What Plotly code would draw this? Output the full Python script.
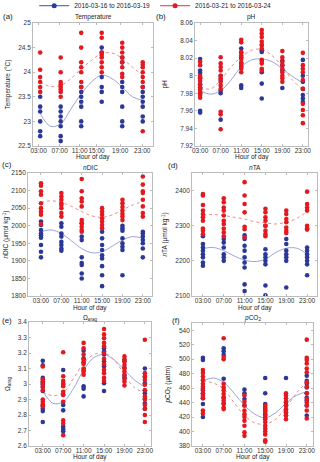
import plotly.graph_objects as go

W, H = 320, 462

HOURS = [3, 7, 11, 15, 19, 23]
HOUR_LABELS = ["03:00", "07:00", "11:00", "15:00", "19:00", "23:00"]
FIT_HOURS = [3, 5, 7, 9, 11, 13, 15, 17, 19, 21, 23]
# tick label positions, where they are not evenly spaced
TEMP_TICK_POS = [2.7, 6.8, 10.7, 14.0, 18.6, 22.9]

SERIES1 = "2016-03-16 to 2016-03-19"
SERIES2 = "2016-03-21 to 2016-03-24"
XTITLE = "Hour of day"

# ---- (a) Temperature ----
temp_blue = [
    [23.5, 23.3, 23.2, 23.0, 22.8, 22.7],
    [23.3, 23.2, 23.1, 23.0, 22.9, 22.7, 22.6],
    [23.7, 23.6, 23.5, 23.4, 23.3, 23.0, 22.9],
    [24.5, 24.4, 23.9, 23.7, 23.6, 23.4],
    [24.3, 24.2, 23.8, 23.7, 23.6, 23.3, 23.0, 22.9],
    [23.7, 23.6, 23.5, 23.4, 23.3, 23.1, 23.0],
]
temp_red = [
    [24.4, 24.05, 23.9, 23.8, 23.7, 23.6],
    [24.3, 24.0, 23.8, 23.75, 23.7, 23.65, 23.6, 23.5],
    [24.8, 24.5, 24.2, 24.1, 24.0, 23.8, 23.7],
    [24.8, 24.7, 24.4, 24.35, 24.3, 24.2, 24.1, 24.0],
    [24.6, 24.5, 24.4, 24.3, 24.2, 24.1, 23.97, 23.9],
    [24.2, 24.15, 24.1, 24.0, 23.9, 23.8, 23.7, 22.8],
]
temp_blue_fit = [23.16, 22.9, 22.95, 23.25, 23.56, 23.8, 23.94, 23.87, 23.7, 23.5, 23.43]
temp_red_fit = [23.8, 23.71, 23.73, 23.87, 24.07, 24.24, 24.38, 24.39, 24.28, 24.1, 23.94]
temp_ticks = [22.5, 23, 23.5, 24, 24.5, 25]

# ---- (b) pH ----
ph_blue = [
    [8.019, 8.006, 8.003, 7.998, 7.99, 7.985, 7.98, 7.96, 7.958],
    [8.0, 7.995, 7.983, 7.98, 7.95],
    [8.031, 8.026, 8.021, 8.014, 8.01, 7.989, 7.986],
    [8.035, 8.029, 8.027, 8.017, 8.004, 7.991, 7.974],
    [8.017, 8.012, 8.006, 7.986],
    [8.018, 8.0, 7.993, 7.985, 7.978, 7.974, 7.97],
]
ph_red = [
    [8.016, 8.012, 8.0, 7.997, 7.994, 7.99, 7.987, 7.984, 7.981, 7.978, 7.975],
    [8.021, 8.014, 8.01, 8.006, 8.0, 7.997, 7.993, 7.989, 7.985, 7.959, 7.956, 7.939],
    [8.041, 8.038, 8.027, 8.023, 8.019, 8.015, 8.011, 8.008, 8.004],
    [8.052, 8.048, 8.044, 8.039, 8.035, 8.031, 8.018, 8.014, 8.008, 8.006],
    [8.028, 8.021, 8.016, 8.012, 8.008, 8.004, 8.0, 7.997, 7.993],
    [8.026, 8.012, 8.008, 8.004, 7.995, 7.985, 7.968, 7.961, 7.955, 7.946],
]
ph_blue_fit = [7.983, 7.979, 7.983, 7.995, 8.01, 8.018, 8.019, 8.016, 8.008, 7.999, 7.992]
ph_red_fit = [7.987, 7.985, 7.995, 8.01, 8.021, 8.029, 8.03, 8.023, 8.01, 7.995, 7.984]
ph_ticks = [7.92, 7.94, 7.96, 7.98, 8.0, 8.02, 8.04, 8.06]

# ---- (c) nDIC ----
dic_blue = [
    [2012, 2002, 1988, 1978, 1973, 1966, 1945, 1926, 1910],
    [2007, 1997, 1978, 1969, 1954, 1945, 1935, 1929],
    [2007, 1969, 1959, 1910, 1894, 1888, 1864, 1850],
    [1983, 1964, 1945, 1931, 1916, 1907, 1885, 1859, 1828],
    [2000, 1993, 1986, 1964, 1950, 1940, 1931, 1859],
    [1983, 1978, 1969, 1959, 1950, 1935, 1910],
]
dic_red = [
    [2121, 2114, 2098, 2088, 2064, 2050, 2040, 2031, 2005],
    [2093, 2083, 2074, 2064, 2059, 2050, 2036, 2026],
    [2133, 2098, 2078, 2069, 2055, 2016, 2007, 1997, 1988, 1983],
    [2050, 2040, 2031, 2021, 2012, 2002, 1993],
    [2074, 2064, 2053, 2043, 2034, 2026, 2016],
    [2140, 2117, 2098, 2093, 2074, 2055, 2036, 2026],
]
dic_blue_fit = [1983, 1988, 1978, 1957, 1935, 1923, 1926, 1942, 1959, 1969, 1964]
dic_red_fit = [2066, 2071, 2066, 2055, 2040, 2028, 2024, 2031, 2045, 2059, 2069]
dic_ticks = [1800, 1850, 1900, 1950, 2000, 2050, 2100, 2150]

# ---- (d) nTA ----
ta_blue = [
    [2270, 2248, 2238, 2229, 2219, 2210, 2195, 2186],
    [2262, 2252, 2238, 2219, 2210, 2200],
    [2273, 2262, 2243, 2229, 2210, 2195, 2181, 2133, 2114],
    [2300, 2233, 2219, 2210, 2200, 2190, 2130, 2102],
    [2262, 2248, 2229, 2219, 2210, 2200, 2124],
    [2238, 2229, 2219, 2210, 2200, 2190, 2159],
]
ta_red = [
    [2390, 2386, 2359, 2343, 2333, 2324, 2314, 2292, 2286, 2276],
    [2378, 2367, 2352, 2343, 2329, 2314, 2305, 2292, 2281, 2270],
    [2424, 2386, 2362, 2338, 2297, 2290, 2267],
    [2348, 2338, 2324, 2314, 2300, 2286, 2276, 2270],
    [2343, 2333, 2319, 2310, 2295, 2286, 2279],
    [2397, 2362, 2352, 2343, 2300, 2293, 2289],
]
ta_blue_fit = [2235, 2238, 2229, 2214, 2202, 2198, 2205, 2224, 2236, 2236, 2219]
ta_red_fit = [2330, 2332, 2329, 2324, 2319, 2311, 2308, 2305, 2310, 2321, 2340]
ta_ticks = [2100, 2200, 2300, 2400]

# ---- (e) Omega arag ----
om_blue = [
    [3.15, 3.12, 3.04, 3.01, 2.995, 2.98, 2.955, 2.86, 2.84, 2.825, 2.755],
    [3.09, 3.0, 2.93, 2.865, 2.83, 2.725, 2.71, 2.695],
    [3.215, 3.165, 3.14, 3.09, 2.985, 2.97, 2.92],
    [3.23, 3.21, 3.19, 3.145, 3.115, 3.005, 2.955],
    [3.15, 3.105, 3.055, 3.04],
    [3.10, 3.045, 3.005, 2.96, 2.94, 2.905, 2.875, 2.84],
]
om_red = [
    [3.113, 3.03, 3.017, 3.002, 2.98, 2.96, 2.90, 2.885, 2.87, 2.855],
    [3.205, 3.05, 3.02, 3.0, 2.985, 2.95, 2.93, 2.885, 2.765, 2.745, 2.67],
    [3.265, 3.23, 3.19, 3.157, 3.13, 3.1, 3.08, 3.06],
    [3.355, 3.32, 3.295, 3.265, 3.243, 3.2, 3.163, 3.128, 3.092, 3.07, 3.04, 3.02],
    [3.178, 3.16, 3.143, 3.122, 3.1, 3.08, 3.058, 3.032, 3.015, 2.99],
    [3.285, 3.07, 3.048, 3.026, 2.995, 2.96, 2.92, 2.9, 2.865, 2.84, 2.80, 2.755],
]
om_blue_fit = [2.955, 2.875, 2.885, 2.97, 3.09, 3.17, 3.19, 3.155, 3.09, 3.025, 2.98]
om_red_fit = [2.945, 2.925, 2.945, 3.035, 3.135, 3.19, 3.2, 3.155, 3.06, 2.975, 2.945]
om_ticks = [2.6, 2.7, 2.8, 2.9, 3.0, 3.1, 3.2, 3.3, 3.4]

# ---- (f) pCO2 ----
pco2_blue = [
    [502, 499, 459, 453, 446, 438, 420],
    [515, 511, 506, 473, 447, 439],
    [458, 453, 445, 436],
    [474, 453, 438, 433, 429, 424, 419],
    [474, 440, 436, 430, 426, 422],
    [477, 470, 466, 461, 453, 447, 443, 436, 422],
]
pco2_red = [
    [485, 481, 476, 471, 466, 462, 457, 452, 449, 446, 429, 425],
    [529, 503, 500, 466, 461, 457, 452, 447, 443, 438, 433, 431],
    [450, 441, 436, 429, 424, 420, 415, 408, 399, 394],
    [436, 431, 427, 422, 417, 413, 408, 404, 400, 396, 388, 386],
    [453, 450, 446, 441, 436, 431, 427, 422, 417],
    [527, 502, 499, 494, 487, 482, 468, 462, 453, 445, 440, 436, 429, 418],
]
pco2_blue_fit = [470, 474, 468, 453, 436, 424, 419, 426, 439, 450, 455]
pco2_red_fit = [470, 467, 459, 440, 422, 412, 410, 417, 433, 453, 468]
pco2_ticks = [380, 400, 420, 440, 460, 480, 500, 520, 540]

BLUE = "#2b3896"
RED = "#e3191f"
BLUE_FIT = "#8f9ad6"
RED_FIT = "#f08a8a"
AXIS = "#bcbcbc"
FONT = "Liberation Sans, Arial, sans-serif"
FS = 6.5


def px(x):
    return x / W


def py(y):
    return 1 - y / H


# box px (left, right, top, bottom), title y, y-title x, label pos, x-title y, x tick positions
panels = [
    (temp_blue, temp_red, temp_blue_fit, temp_red_fit, temp_ticks, [22.5, 25], [1.6, 25.0],
     (33, 153, 23, 146), "Temperature", "Temperature (°C)", "(a)", (2, 16), 17, 7, 157, TEMP_TICK_POS),
    (ph_blue, ph_red, ph_blue_fit, ph_red_fit, ph_ticks, [7.92, 8.06], [2.0, 24.0],
     (195, 308, 23, 146), "pH", "pH", "(b)", (155, 16), 17, 164, 157, HOURS),
    (dic_blue, dic_red, dic_blue_fit, dic_red_fit, dic_ticks, [1800, 2150], [0.45, 24.8],
     (28, 152, 173, 296), "<i>n</i>DIC", "<i>n</i>DIC (μmol kg<sup>-1</sup>)", "(c)", (1, 164), 167, 6, 308, HOURS),
    (ta_blue, ta_red, ta_blue_fit, ta_red_fit, ta_ticks, [2100, 2450], [0.9, 24.9],
     (192, 317, 173, 296), "<i>n</i>TA", "<i>n</i>TA (μmol kg<sup>-1</sup>)", "(d)", (167, 166), 167, 165, 308, HOURS),
    (om_blue, om_red, om_blue_fit, om_red_fit, om_ticks, [2.6, 3.4], [0.3, 24.2],
     (29, 151, 322, 446), "Ω<sub>arag</sub>", "Ω<sub>arag</sub>", "(e)", (1, 320), 318, 8, 457, HOURS),
    (pco2_blue, pco2_red, pco2_blue_fit, pco2_red_fit, pco2_ticks, [380, 550], [0.9, 24.2],
     (192, 313, 323, 446), "<i>p</i>CO<sub>2</sub>", "<i>p</i>CO<sub>2</sub> (μatm)", "(f)", (171, 320), 318, 167, 457, HOURS),
]

fig = go.Figure()
annotations = []
layout = {}
TXT = dict(size=FS, color="#222222", family=FONT)
CENTER = dict(xref="paper", yref="paper", xanchor="center", yanchor="middle", showarrow=False, borderpad=0)

for i, (db, dr, fb, fr, ticks, yr, xr, box, title, ytitle, label, lpos, tpos, ytx, xty, xtpos) in enumerate(panels):
    n = "" if i == 0 else str(i + 1)
    xa, ya = "x" + n, "y" + n
    x0, x1, y0, y1 = box
    fig.add_trace(go.Scatter(x=FIT_HOURS, y=fb, mode="lines", line=dict(color=BLUE_FIT, width=0.9, shape="spline"),
                             xaxis=xa, yaxis=ya, showlegend=False, hoverinfo="skip"))
    fig.add_trace(go.Scatter(x=FIT_HOURS, y=fr, mode="lines", line=dict(color=RED_FIT, width=1.0, dash="dot", shape="spline"),
                             xaxis=xa, yaxis=ya, showlegend=False, hoverinfo="skip"))
    bx, byv = [], []
    for h, col in zip(HOURS, db):
        bx += [h] * len(col)
        byv += col
    rx, ryv = [], []
    for h, col in zip(HOURS, dr):
        rx += [h] * len(col)
        ryv += col
    fig.add_trace(go.Scatter(x=bx, y=byv, mode="markers", marker=dict(color=BLUE, size=4.6, line=dict(width=0)),
                             xaxis=xa, yaxis=ya, showlegend=False, name=SERIES1))
    fig.add_trace(go.Scatter(x=rx, y=ryv, mode="markers", marker=dict(color=RED, size=4.6, line=dict(width=0)),
                             xaxis=xa, yaxis=ya, showlegend=False, name=SERIES2))

    common = dict(showline=True, linecolor=AXIS, linewidth=0.8, mirror="ticks", ticks="inside", ticklen=2.5,
                  tickcolor=AXIS, tickwidth=0.8, showgrid=False, zeroline=False, automargin=False,
                  tickfont=dict(size=FS, color="#333333", family=FONT))
    layout["xaxis" + n] = dict(common, domain=[px(x0), px(x1)], range=xr, anchor=ya, tickangle=0,
                               tickvals=xtpos, ticktext=HOUR_LABELS, ticklabelstandoff=-2)
    layout["yaxis" + n] = dict(common, domain=[py(y1), py(y0)], range=yr, anchor=xa,
                               tickvals=ticks, ticktext=[f"{v:g}" for v in ticks], ticklabelstandoff=0)
    annotations.append(dict(CENTER, text=title, x=px((x0 + x1) / 2), y=py(tpos), font=TXT))
    annotations.append(dict(CENTER, text=XTITLE, x=px((x0 + x1) / 2), y=py(xty), font=TXT))
    annotations.append(dict(CENTER, text=ytitle, x=px(ytx), y=py((y0 + y1) / 2), textangle=-90, font=TXT))
    annotations.append(dict(CENTER, text=label, x=px(lpos[0]), y=py(lpos[1]), xanchor="left",
                            font=dict(size=8, color="#222222", family=FONT)))

fig.add_trace(go.Scatter(x=[None], y=[None], mode="lines+markers", name=SERIES1,
                         line=dict(color=BLUE, width=0.9), marker=dict(color=BLUE, size=5)))
fig.add_trace(go.Scatter(x=[None], y=[None], mode="lines+markers", name=SERIES2,
                         line=dict(color=RED, width=0.9), marker=dict(color=RED, size=5)))

fig.update_layout(
    width=W, height=H, margin=dict(l=0, r=0, t=0, b=0, autoexpand=False),
    paper_bgcolor="white", plot_bgcolor="white",
    font=dict(family=FONT, size=FS, color="#222222"),
    legend=dict(orientation="h", x=0.485, xanchor="center", y=1.019, yanchor="top",
                font=dict(size=FS, family=FONT), itemwidth=30, bgcolor="rgba(0,0,0,0)",
                tracegroupgap=0),
    annotations=annotations,
    **layout,
)

fig.write_html("out.html", config={"displayModeBar": False},
               post_script="document.body.style.margin='0';document.body.style.overflow='hidden';")
